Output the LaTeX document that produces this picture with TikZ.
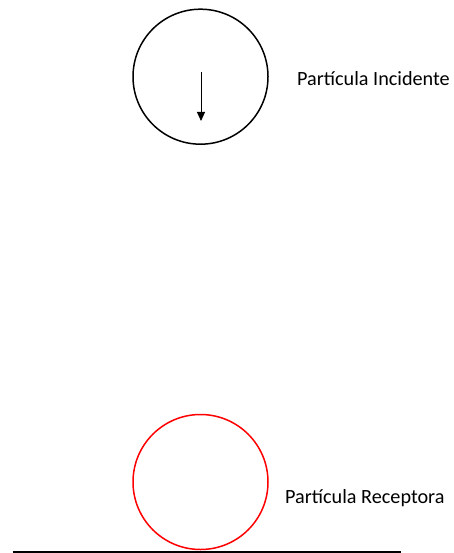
\documentclass[tikz,border=0pt]{standalone}
\usepackage{fontspec}
\setmainfont{Carlito}
\usetikzlibrary{arrows.meta}

\begin{document}
\begin{tikzpicture}[
  x=1pt, y=-1pt,
  font=\fontsize{20.2}{23}\selectfont,
  ball/.style={circle, line width=1.5pt, minimum size=135pt, inner sep=0pt},
  lbl/.style={anchor=base west, inner sep=0pt},
  vec/.style={-{Triangle[length=9pt,width=8pt]}, line width=0.9pt},
  floor/.style={line width=1.6pt}
]
\useasboundingbox (0,0) rectangle (453,553);
\node[ball, draw=black] (inc) at (200.5,76.7) {};
\node[ball, draw=red] (rec) at (200.5,482) {};
\coordinate (vtop) at (201,72);
\coordinate (vbot) at (201,121);
\draw[vec] (vtop) -- (vbot);
\node[lbl] (inclbl) at (297,86) {Partícula Incidente};
\node[lbl] (reclbl) at (285,503) {Partícula Receptora};
\coordinate (fl) at (12.7,552);
\coordinate (fr) at (401,552);
\draw[floor] (fl) -- (fr);
\end{tikzpicture}
\end{document}
